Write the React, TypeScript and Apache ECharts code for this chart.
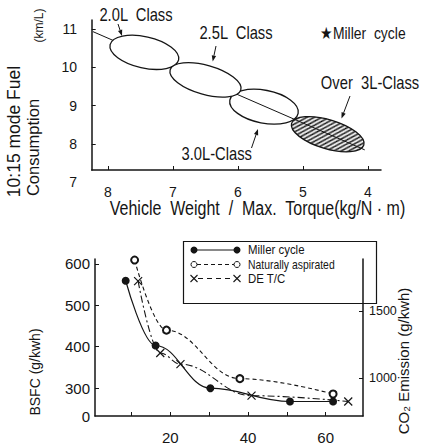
import React, { useEffect, useRef } from 'react';
import * as echarts from 'echarts';

const SANS = "'Liberation Sans', Arial, sans-serif";
const INK = '#151515';

// ---- Top chart data ----
const weightTorqueTicks = [4, 5, 6, 7, 8];
const fuelTicks = [7, 8, 9, 10, 11];
const fuelTickMarks = [8, 9, 10, 11];
const classLabels = ['2.0L  Class', '2.5L  Class', '3.0L-Class', 'Over  3L-Class'];
const classX = [7.44, 6.5, 5.6, 4.62];
const classY = [10.39, 9.67, 8.97, 8.25];
const classSpreadX = [0.54, 0.565, 0.535, 0.58];
const classSpreadY = [0.41, 0.38, 0.43, 0.38];
const classTilt = [12.6, 15.8, 11, 16.7];
const trendX = [8.23, 4.05];
const trendY = [10.93, 7.84];

// ---- Bottom chart data ----
const speedTicks = [10, 20, 30, 40, 50, 60];
const speedLabels = [20, 40, 60];
const bsfcTicks = [300, 400, 500, 600];
const co2Ticks = [1000, 1500];
const millerX = [8.5, 16.2, 30.3, 50.8, 61.9];
const millerY = [559, 403, 300, 268, 268];
const naX = [10.8, 19.0, 37.9, 61.9];
const naY = [609, 440, 323, 286];
const detcX = [11.7, 17.4, 22.6, 40.9, 65.8];
const detcY = [558, 385, 358, 282, 268];
const seriesNames = ['Miller cycle', 'Naturally aspirated', 'DE T/C'];

function arrow(x1: number, y1: number, x2: number, y2: number) {
  const ang = Math.atan2(y2 - y1, x2 - x1);
  const L = 6, W = 2.2;
  const bx = x2 - L * Math.cos(ang), by = y2 - L * Math.sin(ang);
  const px = -Math.sin(ang) * W, py = Math.cos(ang) * W;
  return [
    { type: 'line', shape: { x1, y1, x2: bx, y2: by }, style: { stroke: INK, lineWidth: 1 } },
    { type: 'polygon', shape: { points: [[x2, y2], [bx + px, by + py], [bx - px, by - py]] }, style: { fill: INK } },
  ];
}

function hText(text: string, x: number, y: number, size: number, sx = 0.82, align = 'center') {
  return {
    type: 'text', x, y, scaleX: sx,
    style: { text, fontSize: size, fontFamily: SANS, fontWeight: 'normal', fill: INK, textAlign: align, textVerticalAlign: 'middle' },
  };
}
function vText(text: string, x: number, y: number, size: number) {
  return {
    type: 'text', x, y, rotation: Math.PI / 2,
    style: { text, fontSize: size, fontFamily: SANS, fill: INK, textAlign: 'center', textVerticalAlign: 'middle' },
  };
}

export default function App() {
  const ref = useRef<HTMLDivElement>(null);
  useEffect(() => {
    document.body.style.margin = '0';
    const chart = echarts.init(ref.current!, null, { renderer: 'svg' });

    const N = 5;
    const hatch = document.createElement('canvas');
    hatch.width = N; hatch.height = N;
    const ctx = hatch.getContext('2d')!;
    ctx.fillStyle = '#fff';
    ctx.fillRect(0, 0, N, N);
    ctx.strokeStyle = '#000';
    ctx.lineWidth = 1.5;
    ctx.beginPath();
    ctx.moveTo(-1, 1); ctx.lineTo(1, -1);
    ctx.moveTo(-1, N + 1); ctx.lineTo(N + 1, -1);
    ctx.moveTo(N - 1, N + 1); ctx.lineTo(N + 1, N - 1);
    ctx.stroke();
    const hatchFill = { image: hatch, repeat: 'repeat' };

    const ellipseItem = (i: number) => [classX[i], classY[i], classSpreadX[i], classSpreadY[i], classTilt[i], i];
    const renderEllipse = (params: any, api: any) => {
      const c = api.coord([api.value(0), api.value(1)]);
      const s = api.size([api.value(2), api.value(3)]);
      const idx = api.value(5);
      const fill = idx === 3 ? hatchFill : idx < 2 ? '#fff' : 'none';
      return {
        type: 'ellipse',
        x: c[0], y: c[1],
        rotation: (-api.value(4) * Math.PI) / 180,
        shape: { cx: 0, cy: 0, rx: Math.abs(s[0]), ry: Math.abs(s[1]) },
        style: { fill, stroke: INK, lineWidth: 1.3 },
      };
    };

    const axisLine = { show: true, lineStyle: { color: INK, width: 1.5 } };
    const plain = (v: number) => String(v);

    const option: any = {
      animation: false,
      backgroundColor: '#fff',
      grid: [
        { left: 91.7, top: 20, width: 289.3, height: 150 },
        { left: 91.7, top: 29, width: 289.3, height: 153 },
        { left: 95, top: 259, width: 268, height: 164 },
      ],
      xAxis: [
        {
          gridIndex: 0, type: 'value', inverse: true, min: 3.8, max: 8.25,
          axisLine, splitLine: { show: false },
          axisTick: { show: true, inside: true, length: 4, customValues: weightTorqueTicks, lineStyle: { color: INK } },
          axisLabel: { customValues: weightTorqueTicks, margin: 15, fontSize: 14, fontFamily: SANS, color: INK, formatter: plain },
        },
        { gridIndex: 1, type: 'value', min: 0, max: 1, show: false },
        {
          gridIndex: 2, type: 'value', min: 0.6, max: 69.6,
          axisLine, splitLine: { show: false },
          axisTick: { show: true, inside: true, length: 4, customValues: speedTicks, lineStyle: { color: INK } },
          axisLabel: { customValues: speedLabels, margin: 14, fontSize: 15, fontFamily: SANS, color: INK, formatter: plain },
        },
      ],
      yAxis: [
        {
          gridIndex: 0, type: 'value', min: 7.314, max: 11.235,
          axisLine, splitLine: { show: false },
          axisTick: { show: true, inside: true, length: 4, customValues: fuelTickMarks, lineStyle: { color: INK } },
          axisLabel: { show: false },
        },
        {
          gridIndex: 1, type: 'value', min: 7, max: 11, interval: 1,
          axisLine: { show: false }, axisTick: { show: false }, splitLine: { show: false },
          axisLabel: { customValues: fuelTicks, margin: 14.7, fontSize: 14, fontFamily: SANS, color: INK, formatter: plain },
        },
        {
          gridIndex: 2, type: 'value', min: 233, max: 611.5,
          axisLine, splitLine: { show: false },
          axisTick: { show: true, inside: true, length: 4, customValues: bsfcTicks, lineStyle: { color: INK } },
          axisLabel: {
            customValues: [233, ...bsfcTicks], margin: 5, fontSize: 15, fontFamily: SANS, color: INK,
            formatter: (v: number) => (v < 250 ? '0' : String(v)),
          },
        },
        {
          gridIndex: 2, type: 'value', position: 'right', min: 720, max: 1889,
          axisLine, splitLine: { show: false },
          axisTick: { show: true, inside: true, length: 4, customValues: co2Ticks, lineStyle: { color: INK } },
          axisLabel: { customValues: co2Ticks, margin: 6, fontSize: 12.5, fontFamily: SANS, color: INK, formatter: plain },
        },
      ],
      series: [
        {
          type: 'custom', name: 'classesBack', xAxisIndex: 0, yAxisIndex: 0, z: 1, clip: false,
          data: [ellipseItem(2), ellipseItem(3)], renderItem: renderEllipse,
        },
        {
          type: 'line', name: 'trend', xAxisIndex: 0, yAxisIndex: 0, z: 2,
          data: trendX.map((x, i) => [x, trendY[i]]), symbol: 'none',
          lineStyle: { color: INK, width: 1 },
        },
        {
          type: 'custom', name: 'classesFront', xAxisIndex: 0, yAxisIndex: 0, z: 3, clip: false,
          data: [ellipseItem(0), ellipseItem(1)], renderItem: renderEllipse,
        },
        {
          type: 'line', name: seriesNames[0], xAxisIndex: 2, yAxisIndex: 2, z: 4,
          data: millerX.map((x, i) => [x, millerY[i]]), smooth: 0.4, smoothMonotone: 'x',
          symbol: 'circle', symbolSize: 8,
          itemStyle: { color: INK, borderWidth: 0 },
          lineStyle: { color: INK, width: 1.2, type: 'solid' },
        },
        {
          type: 'line', name: seriesNames[1], xAxisIndex: 2, yAxisIndex: 2, z: 4,
          data: naX.map((x, i) => [x, naY[i]]), smooth: 0.4, smoothMonotone: 'x',
          symbol: 'emptyCircle', symbolSize: 7,
          itemStyle: { color: INK, borderColor: INK, borderWidth: 1 },
          lineStyle: { color: INK, width: 1.1, type: [4, 3] },
        },
        {
          type: 'line', name: seriesNames[2], xAxisIndex: 2, yAxisIndex: 2, z: 4,
          data: detcX.map((x, i) => [x, detcY[i]]), smooth: 0.4, smoothMonotone: 'x',
          symbol: 'path://M0 0L10 10M10 0L0 10', symbolSize: 8,
          itemStyle: { color: 'none', borderColor: INK, borderWidth: 1.2 },
          lineStyle: { color: INK, width: 1.1, type: [7, 3, 2, 3] },
        },
      ],
      graphic: [
        // top annotations
        hText(classLabels[0], 136, 14.5, 18),
        hText(classLabels[1], 236, 32, 18),
        hText('★Miller  cycle', 363, 32.5, 17),
        hText(classLabels[3], 370, 82.5, 18),
        hText(classLabels[2], 216.7, 153, 18),
        ...arrow(118, 24, 122, 36),
        ...arrow(216, 46, 212.7, 61.5),
        ...arrow(350, 96, 341.5, 118.5),
        ...arrow(251.5, 148, 258, 129),
        hText('Vehicle  Weight  /  Max.  Torque(kg/N · m)', 257.5, 208, 20, 0.8),
        vText('10:15 mode Fuel', 14, 131.5, 17.5),
        vText('Consumption', 33, 147.5, 16.5),
        vText('(km/L)', 38.5, 25.5, 12),
        // bottom titles
        vText('BSFC (g/kwh)', 35, 372, 14),
        vText('CO₂ Emission (g/kwh)', 403, 361, 15),
        // legend
        {
          type: 'group', z: 10,
          children: [
            { type: 'rect', shape: { x: 183.5, y: 241.5, width: 193, height: 62 }, style: { fill: '#fff', stroke: INK, lineWidth: 1.2 } },
            { type: 'line', shape: { x1: 194, y1: 250, x2: 237, y2: 250 }, style: { stroke: INK, lineWidth: 1.2 } },
            { type: 'circle', shape: { cx: 194, cy: 250, r: 3.5 }, style: { fill: INK } },
            { type: 'circle', shape: { cx: 237, cy: 250, r: 3.5 }, style: { fill: INK } },
            hText(seriesNames[0], 248, 250, 13, 0.88, 'left'),
            { type: 'line', shape: { x1: 197, y1: 264.5, x2: 234, y2: 264.5 }, style: { stroke: INK, lineWidth: 1.1, lineDash: [4, 3] } },
            { type: 'circle', shape: { cx: 194, cy: 264.5, r: 3 }, style: { fill: '#fff', stroke: INK, lineWidth: 1 } },
            { type: 'circle', shape: { cx: 237, cy: 264.5, r: 3 }, style: { fill: '#fff', stroke: INK, lineWidth: 1 } },
            hText(seriesNames[1], 248, 264.5, 13, 0.8, 'left'),
            { type: 'line', shape: { x1: 198, y1: 278.5, x2: 233, y2: 278.5 }, style: { stroke: INK, lineWidth: 1.1, lineDash: [5, 4] } },
            { type: 'polyline', shape: { points: [[190.5, 275], [197.5, 282]] }, style: { stroke: INK, lineWidth: 1.1 } },
            { type: 'polyline', shape: { points: [[197.5, 275], [190.5, 282]] }, style: { stroke: INK, lineWidth: 1.1 } },
            { type: 'polyline', shape: { points: [[233.5, 275], [240.5, 282]] }, style: { stroke: INK, lineWidth: 1.1 } },
            { type: 'polyline', shape: { points: [[240.5, 275], [233.5, 282]] }, style: { stroke: INK, lineWidth: 1.1 } },
            hText(seriesNames[2], 248, 278.5, 13, 0.88, 'left'),
          ],
        },
      ],
    };
    chart.setOption(option);
    return () => chart.dispose();
  }, []);
  return <div ref={ref} style={{ position: 'absolute', left: 0, top: 0, width: 421, height: 445 }} />;
}
